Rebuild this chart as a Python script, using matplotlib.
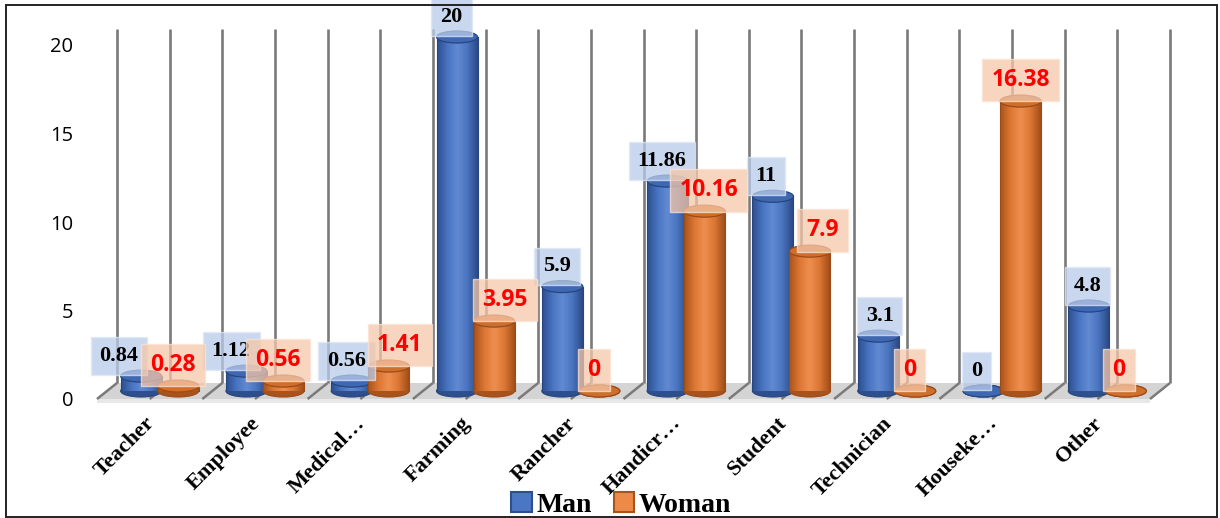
import numpy as np
import matplotlib
matplotlib.use("Agg")
import matplotlib.pyplot as plt
from matplotlib.patches import Ellipse, Polygon, Rectangle
from matplotlib.colors import LinearSegmentedColormap

# ---------------- data ----------------
categories = ["Teacher", "Employee", "Medical…", "Farming", "Rancher",
              "Handicr…", "Student", "Technician", "Houseke…", "Other"]
man = [0.84, 1.12, 0.56, 20, 5.9, 11.86, 11, 3.1, 0, 4.8]
woman = [0.28, 0.56, 1.41, 3.95, 0, 10.16, 7.9, 0, 16.38, 0]
series_names = ["Man", "Woman"]
y_ticks = [0, 5, 10, 15, 20]

# label nudges (points), as placed in the original
man_nudge = [-16, -11, -4, -4, -4, -4, -5, 1, -5, -1]
woman_nudge = [-4, -4, 8, 8, -4, 3, 9, -4, 0, -5]

# ---------------- layout ----------------
W, H = 1220, 518
fig = plt.figure(figsize=(12.2, 5.18), dpi=100)
L, R, T, B = 90, 1185, 20, 405
ax = fig.add_axes([L / W, 1 - B / H, (R - L) / W, (B - T) / H])
px_cat, px_unit = 105.3, 17.7
x0_px, y0_px = 149.65, 399
ax.set_xlim((L - x0_px) / px_cat, (R - x0_px) / px_cat)
ax.set_ylim((y0_px - B) / px_unit, (y0_px - T) / px_unit)
for s in ax.spines.values():
    s.set_visible(False)

n = len(categories)
x = np.arange(n)
dxb, dyb = 20 / px_cat, 16 / px_unit          # depth of the 3D floor
mdx, base = dxb / 2, dyb / 2                   # bars stand at mid depth
bw = 41 / px_cat
off = 18.5 / px_cat
eh = 12 / px_unit

# floor
floor = Polygon([(-0.5, 0), (n - 0.5, 0), (n - 0.5 + dxb, dyb), (-0.5 + dxb, dyb)],
                closed=True, fc="#d4d4d4", ec="none", zorder=1)
ax.add_patch(floor)
shadow = Polygon([(-0.5, 0), (n - 0.5, 0), (n - 0.5, -4 / px_unit), (-0.5, -4 / px_unit)],
                 closed=True, fc="#e8e8e8", ec="none", zorder=0.9)
ax.add_patch(shadow)

# grid lines (back wall + floor diagonals)
top = y_ticks[-1] + dyb
for k in range(2 * n + 1):
    xk = -0.5 + 0.5 * k
    ax.plot([xk, xk + dxb], [0, dyb], color="#7a7a7a", lw=1.8, zorder=1.5,
            solid_capstyle="butt")
    ax.plot([xk + dxb, xk + dxb], [dyb, top], color="#7a7a7a", lw=1.9, zorder=1.5,
            solid_capstyle="butt")

# ---------------- cylinders ----------------
blue_cmap = LinearSegmentedColormap.from_list(
    "b", ["#2d4f8e", "#4873c0", "#618ad2", "#4a74bf", "#2b4a86"])
orange_cmap = LinearSegmentedColormap.from_list(
    "o", ["#a9531c", "#dc7633", "#ee8f4f", "#dc7634", "#a24f1a"])
grad = np.linspace(0, 1, 64).reshape(1, -1)

specs = [
    (man, -off, blue_cmap, "#3f68b2", "#27457e", "#2d4f8e"),
    (woman, +off, orange_cmap, "#cf6f2d", "#9c4a16", "#a9531c"),
]

for i in range(n):
    for si, (vals, o, cmap, topc, edgec, botc) in enumerate(specs):
        xc = x[i] + mdx + o
        v = vals[i]
        z = 3 + si
        bars = ax.bar([xc], [v], width=bw, bottom=base, color=botc,
                      zorder=z, linewidth=0)
        ax.add_patch(Ellipse((xc, base), bw, eh, fc=botc, ec=edgec, lw=0.8,
                             zorder=z - 0.05))
        rect = bars.patches[0]
        if v > 0:
            im = ax.imshow(grad, extent=[xc - bw / 2, xc + bw / 2, base, base + v],
                           cmap=cmap, aspect="auto", zorder=z, interpolation="bilinear")
            im.set_clip_path(rect)
            ax.plot([xc - bw / 2] * 2, [base, base + v], color=edgec, lw=0.8, zorder=z + 0.01)
            ax.plot([xc + bw / 2] * 2, [base, base + v], color=edgec, lw=0.8, zorder=z + 0.01)
        ax.add_patch(Ellipse((xc, base + v), bw, eh, fc=topc, ec=edgec, lw=0.9,
                             zorder=z + 0.05))

# ---------------- data labels ----------------
for i in range(n):
    xc = x[i] + mdx - off
    ax.annotate(f"{man[i]:g}", xy=(xc, base + man[i]), xytext=(man_nudge[i], 14.5),
                textcoords="offset points", ha="center", va="center",
                fontsize=16, fontweight="bold", family="Liberation Serif", color="black",
                bbox=dict(boxstyle="square,pad=0.4", fc="#b9cbea", ec="#dfe7f5",
                          alpha=0.75, lw=1), zorder=10)
for i in range(n):
    xc = x[i] + mdx + off
    ax.annotate(f"{woman[i]:g}", xy=(xc, base + woman[i]), xytext=(woman_nudge[i], 15),
                textcoords="offset points", ha="center", va="center",
                fontsize=16.5, fontweight="bold", family="Open Sans", color="#ff0000",
                bbox=dict(boxstyle="square,pad=0.4", fc="#f6c7a8", ec="#fbe3d3",
                          alpha=0.75, lw=1), zorder=11)

# ---------------- axes text ----------------
ax.set_yticks(y_ticks)
ax.set_yticklabels([str(t) for t in y_ticks], family="Open Sans", fontsize=14.5)
ax.tick_params(axis="y", length=0, pad=12)
ax.set_xticks(x + 0.02)
ax.set_xticklabels(categories, rotation=45, ha="right", va="center",
                   rotation_mode="anchor", family="Liberation Serif",
                   fontweight="bold", fontsize=16)
ax.tick_params(axis="x", length=0, pad=11)

# legend
handles = [Rectangle((0, 0), 1, 1, fc="#4a76c4", ec="#2d4f8e", lw=1.5),
           Rectangle((0, 0), 1, 1, fc="#ee8a47", ec="#a9531c", lw=1.5)]
fig.legend(handles, series_names, loc="center", ncol=2,
           bbox_to_anchor=(621 / W, 1 - 505 / H), frameon=False,
           prop=dict(family="Liberation Serif", weight="bold", size=20),
           handlelength=0.75, handleheight=0.75, handletextpad=0.15,
           columnspacing=0.8, borderaxespad=0)

# figure border
fig.patches.append(Rectangle((5.5 / W, 1.2 / H), (1211 / W), (511.5 / H),
                             transform=fig.transFigure, fill=False,
                             ec="#222222", lw=1.4))

fig.savefig("out.png", dpi=100)
